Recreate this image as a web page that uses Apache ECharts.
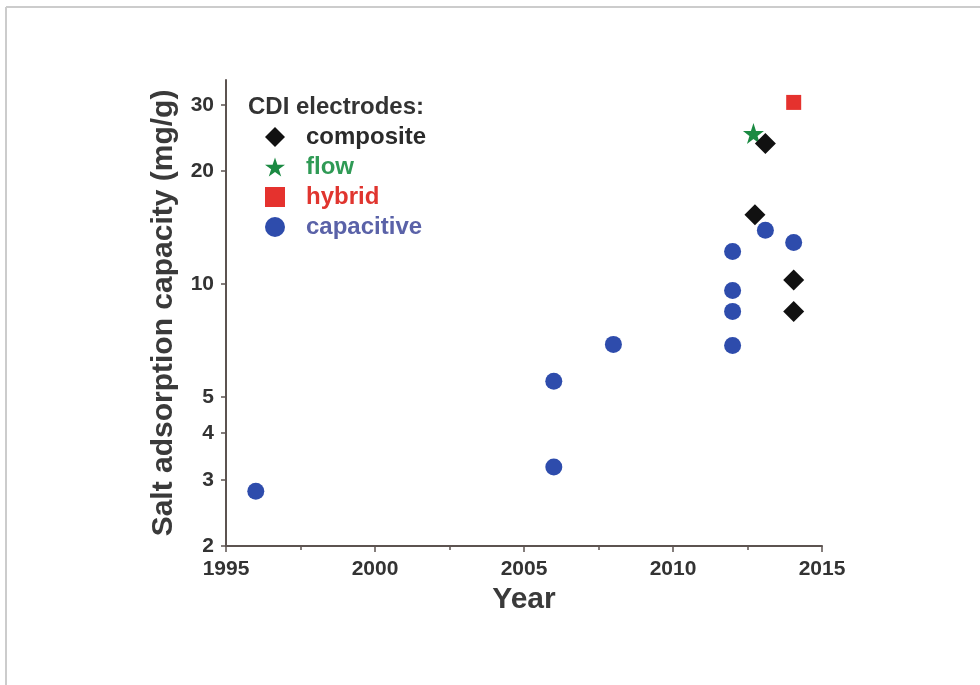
<!DOCTYPE html>
<html>
<head>
<meta charset="utf-8">
<title>Salt adsorption capacity of CDI electrodes</title>
<script src="https://cdn.jsdelivr.net/npm/echarts@6/dist/echarts.min.js"></script>
<style>
  html, body { margin: 0; padding: 0; background: #ffffff; }
  #chart { width: 980px; height: 685px; }
</style>
</head>
<body>
<div id="chart"></div>
<script>
// Salt adsorption capacity (mg/g) of CDI electrodes by publication year
const compositePoints = [[2012.75, 15.3], [2013.1, 23.7], [2014.05, 10.25], [2014.05, 8.45]];
const flowPoints = [[2012.7, 25.2]];
const hybridPoints = [[2014.05, 30.5]];
const capacitivePoints = [
  [1996, 2.8], [2006, 3.25], [2006, 5.5], [2008, 6.9],
  [2012, 6.85], [2012, 8.45], [2012, 9.6], [2012, 12.2],
  [2013.1, 13.9], [2014.05, 12.9]
];
const yTickValues = [2, 3, 4, 5, 10, 20, 30];
const seriesNames = ['composite', 'flow', 'hybrid', 'capacitive'];

const FONT = "'Liberation Sans', Arial, Helvetica, sans-serif";
const AXIS_COLOR = '#5c5350';
const TEXT_COLOR = '#333333';
const STAR = 'path://M50,0 L61.8,35.1 L98.9,35.1 L68.8,56.8 L80.3,91.9 L50,70.2 L19.7,91.9 L31.2,56.8 L1.1,35.1 L38.2,35.1 Z';

const colors = {
  composite: '#111111',
  flow: '#1b8a42',
  hybrid: '#e5322e',
  capacitive: '#2e4cac'
};
const legendTextColors = {
  composite: '#2a2a2a',
  flow: '#2f9a55',
  hybrid: '#e0352f',
  capacitive: '#5a62a8'
};

const chart = echarts.init(document.getElementById('chart'), null, { renderer: 'canvas' });

chart.setOption({
  backgroundColor: '#ffffff',
  animation: false,
  title: {
    text: 'CDI electrodes:',
    left: 248,
    top: 95,
    padding: 0,
    textStyle: { fontFamily: FONT, fontSize: 24, fontWeight: 'bold', color: TEXT_COLOR }
  },
  legend: {
    orient: 'vertical',
    left: 265,
    top: 125,
    itemWidth: 20,
    itemHeight: 20,
    itemGap: 6,
    padding: 0,
    textStyle: { fontFamily: FONT, fontSize: 24, fontWeight: 'bold', lineHeight: 20, padding: [0, 0, 0, 16] },
    data: seriesNames.map(n => ({ name: n, textStyle: { color: legendTextColors[n] } }))
  },
  grid: { left: 226, right: 158, top: 80, bottom: 139 },
  xAxis: {
    type: 'value',
    min: 1995,
    max: 2015,
    interval: 5,
    name: 'Year',
    nameLocation: 'middle',
    nameGap: 38,
    nameTextStyle: { fontFamily: FONT, fontSize: 30, fontWeight: 'bold', color: '#3a3a3a' },
    axisLine: { show: true, lineStyle: { color: AXIS_COLOR, width: 2 } },
    axisTick: { show: true, inside: false, length: 6, lineStyle: { color: AXIS_COLOR, width: 1.5 } },
    minorTick: { show: true, splitNumber: 2, length: 4, lineStyle: { color: AXIS_COLOR, width: 1.5 } },
    splitLine: { show: false },
    axisLabel: {
      fontFamily: FONT, fontSize: 21, fontWeight: 'bold', color: TEXT_COLOR, margin: 13,
      formatter: v => String(v)
    }
  },
  yAxis: {
    type: 'log',
    logBase: 10,
    min: 2,
    max: 35,
    name: 'Salt adsorption capacity (mg/g)',
    nameLocation: 'middle',
    nameGap: 47,
    nameTextStyle: { fontFamily: FONT, fontSize: 30, fontWeight: 'bold', color: '#3a3a3a' },
    axisLine: { show: true, lineStyle: { color: AXIS_COLOR, width: 2 } },
    axisTick: { show: true, inside: false, length: 5, customValues: yTickValues, lineStyle: { color: AXIS_COLOR, width: 1.5 } },
    splitLine: { show: false },
    axisLabel: { fontFamily: FONT, fontSize: 21, fontWeight: 'bold', color: TEXT_COLOR, margin: 12, customValues: yTickValues }
  },
  series: [
    {
      name: 'flow', type: 'scatter', data: flowPoints, z: 2,
      symbol: STAR, symbolSize: 21,
      itemStyle: { color: colors.flow, opacity: 1 }
    },
    {
      name: 'composite', type: 'scatter', data: compositePoints, z: 3,
      symbol: 'diamond', symbolSize: 21,
      itemStyle: { color: colors.composite, opacity: 1 }
    },
    {
      name: 'hybrid', type: 'scatter', data: hybridPoints, z: 3,
      symbol: 'rect', symbolSize: 15,
      itemStyle: { color: colors.hybrid, opacity: 1 }
    },
    {
      name: 'capacitive', type: 'scatter', data: capacitivePoints, z: 4,
      symbol: 'circle', symbolSize: 17,
      itemStyle: { color: colors.capacitive, opacity: 1 }
    }
  ],
  graphic: [
    { type: 'line', shape: { x1: 6, y1: 7, x2: 980, y2: 7 }, style: { stroke: '#cccccc', lineWidth: 2 }, silent: true },
    { type: 'line', shape: { x1: 6, y1: 7, x2: 6, y2: 685 }, style: { stroke: '#cccccc', lineWidth: 2 }, silent: true }
  ]
});
</script>
</body>
</html>
